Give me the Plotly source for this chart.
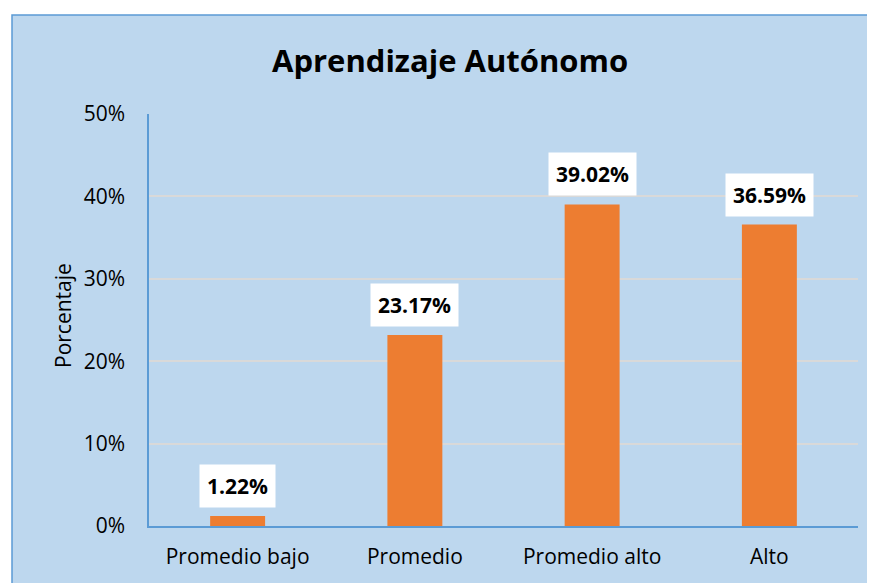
import plotly.graph_objects as go

categories = ["Promedio bajo", "Promedio", "Promedio alto", "Alto"]
values = [1.22, 23.17, 39.02, 36.59]
y_ticks = [0, 10, 20, 30, 40, 50]
y_tick_labels = [f"{t}%" for t in y_ticks]
title_text = "Aprendizaje Autónomo"
y_title = "Porcentaje"

W, H = 875, 583
OFF = 8  # page body margin offset
L, T = 149 - OFF, 114 - OFF
R = W - (858 - OFF)
B = H - (526 - OFF)
pw, ph = W - L - R, H - T - B

def px_x(p):
    return (p - OFF - L) / pw

def px_y(p):
    return (H - B - (p - OFF)) / ph

FONT = "Open Sans"
fig = go.Figure()
fig.add_trace(go.Bar(
    x=categories, y=values,
    marker=dict(color="#ED7D31", line=dict(width=0)),
    hoverinfo="skip",
))

annotations = []
for c, v in zip(categories, values):
    annotations.append(dict(
        x=c, y=v, xref="x", yref="y",
        text=f"<b>{v:.2f}%</b>", showarrow=False,
        yanchor="bottom", yshift=8,
        font=dict(family=FONT, size=21, color="black"),
        bgcolor="white", borderpad=7,
    ))
annotations.append(dict(
    x=px_x(450), y=px_y(60), xref="paper", yref="paper",
    text=f"<b>{title_text}</b>", showarrow=False,
    xanchor="center", yanchor="middle",
    font=dict(family=FONT, size=31, color="black"),
))
annotations.append(dict(
    x=px_x(63), y=px_y(316), xref="paper", yref="paper",
    text=y_title, showarrow=False, textangle=-90,
    xanchor="center", yanchor="middle",
    font=dict(family=FONT, size=21, color="black"),
))

fig.update_layout(
    width=W, height=H,
    margin=dict(l=L, r=R, t=T, b=B, autoexpand=False),
    paper_bgcolor="white",
    plot_bgcolor="rgba(0,0,0,0)",
    bargap=0.69,
    showlegend=False,
    annotations=annotations,
    shapes=[dict(
        type="rect", xref="paper", yref="paper", layer="below",
        x0=px_x(12), x1=px_x(874), y0=px_y(600), y1=px_y(15),
        fillcolor="#BDD7EE", line=dict(color="#5B9BD5", width=1.5),
    )],
    xaxis=dict(
        showline=True, linecolor="#5B9BD5", linewidth=1.5,
        showgrid=False, ticks="outside", ticklen=11, tickcolor="rgba(0,0,0,0)",
        automargin=False,
        tickfont=dict(family=FONT, size=21, color="black"),
    ),
    yaxis=dict(
        range=[0, 50], tickvals=y_ticks, ticktext=y_tick_labels,
        showline=True, linecolor="#5B9BD5", linewidth=1.5,
        showgrid=True, gridcolor="#D9D9D9", gridwidth=1.5,
        zeroline=False, ticks="outside", ticklen=18, tickcolor="rgba(0,0,0,0)",
        automargin=False,
        tickfont=dict(family=FONT, size=21, color="black"),
    ),
)

fig.write_html("out.html")
